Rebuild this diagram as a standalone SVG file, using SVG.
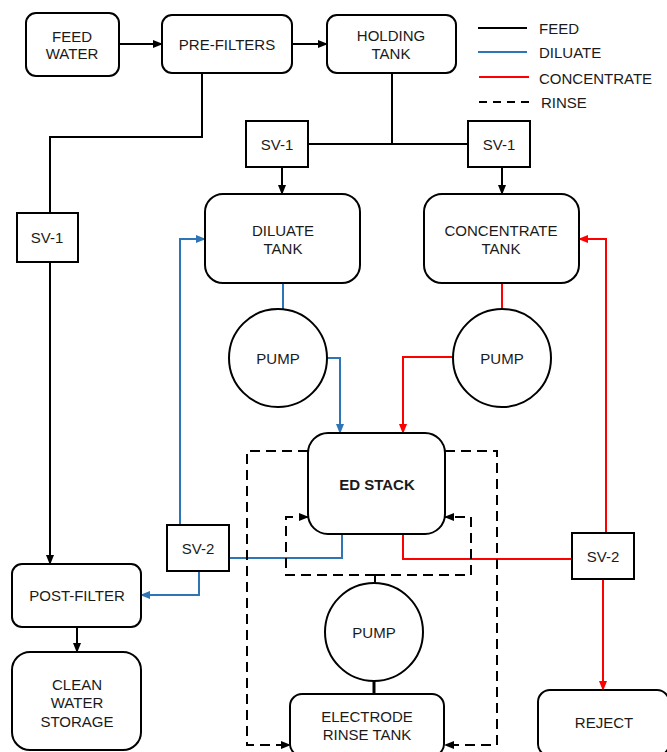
<svg xmlns="http://www.w3.org/2000/svg" width="667" height="752" viewBox="0 0 667 752">
<defs>
<style>
.n{fill:#fff;stroke:#000;stroke-width:2}
.t{font-family:"Liberation Sans",Arial,sans-serif;font-size:15px;fill:#1a1a1a;text-anchor:middle}
.b{font-weight:bold}
.f{fill:none;stroke:#000;stroke-width:2}
.d{fill:none;stroke:#2E75B6;stroke-width:2}
.c{fill:none;stroke:#FF0000;stroke-width:2}
.r{fill:none;stroke:#000;stroke-width:2;stroke-dasharray:10 6}
</style>
<marker id="ak" markerUnits="userSpaceOnUse" markerWidth="10" markerHeight="10" viewBox="0 0 10 10" refX="9" refY="5" orient="auto"><path d="M0,1 L10,5 L0,9 Z" fill="#000"/></marker>
<marker id="ab" markerUnits="userSpaceOnUse" markerWidth="10" markerHeight="10" viewBox="0 0 10 10" refX="9" refY="5" orient="auto"><path d="M0,1 L10,5 L0,9 Z" fill="#2E75B6"/></marker>
<marker id="ar" markerUnits="userSpaceOnUse" markerWidth="10" markerHeight="10" viewBox="0 0 10 10" refX="9" refY="5" orient="auto"><path d="M0,1 L10,5 L0,9 Z" fill="#FF0000"/></marker>
</defs>
<rect width="667" height="752" fill="#fff"/>
<g id="connectors">
<path class="f" d="M119,44 H162" marker-end="url(#ak)"/>
<path class="f" d="M292,44 H327" marker-end="url(#ak)"/>
<path class="f" d="M202,73 V137 H50 V564" marker-end="url(#ak)"/>
<path class="f" d="M392,73 V144 M308,144 H468"/>
<path class="f" d="M282,167 V194" marker-end="url(#ak)"/>
<path class="f" d="M502,167 V194" marker-end="url(#ak)"/>
<path class="f" d="M77,627 V652" marker-end="url(#ak)"/>
<path class="f" d="M374,680 V694" style="stroke-width:3"/>
<path class="d" d="M283,283 V310"/>
<path class="d" d="M327,358 H340 V433" marker-end="url(#ab)"/>
<path class="d" d="M342,534 V558 H229"/>
<path class="d" d="M180,525 V239 H205" marker-end="url(#ab)"/>
<path class="d" d="M199,571 V595 H141" marker-end="url(#ab)"/>
<path class="c" d="M502,283 V310"/>
<path class="c" d="M453,357 H403 V433" marker-end="url(#ar)"/>
<path class="c" d="M403,534 V559 H572"/>
<path class="c" d="M606,533 V239 H579" marker-end="url(#ar)"/>
<path class="c" d="M603,579 V690" marker-end="url(#ar)"/>
<path class="r" d="M308,451 H247 V745 H290" marker-end="url(#ak)"/>
<path class="r" d="M445,451 H497 V745 H445" marker-end="url(#ak)"/>
<path class="f" d="M375,575 V583"/>
<path class="r" d="M375,575 H286 V517 H308" marker-end="url(#ak)"/>
<path class="r" d="M375,575 H471 V517 H445" marker-end="url(#ak)"/>
</g>
<g id="legend">
<path class="f" d="M478,28 H527"/>
<path class="d" d="M478,52 H527"/>
<path class="c" d="M479,77 H529"/>
<path class="r" d="M479,102 H529" style="stroke-dasharray:8 6"/>
<text class="t" x="539" y="34" style="text-anchor:start">FEED</text>
<text class="t" x="539" y="58" style="text-anchor:start">DILUATE</text>
<text class="t" x="539" y="84" style="text-anchor:start">CONCENTRATE</text>
<text class="t" x="541" y="108" style="text-anchor:start">RINSE</text>
</g>
<g id="feed-water"><rect class="n" x="26" y="13" width="93" height="63" rx="10"/><text class="t" x="72" y="42">FEED</text><text class="t" x="72" y="59">WATER</text></g>
<g id="pre-filters"><rect class="n" x="162" y="15" width="130" height="58" rx="10"/><text class="t" x="227" y="50">PRE-FILTERS</text></g>
<g id="holding-tank"><rect class="n" x="327" y="15" width="129" height="58" rx="10"/><text class="t" x="391" y="41">HOLDING</text><text class="t" x="391" y="59">TANK</text></g>
<g id="sv1-a"><rect class="n" x="246" y="121" width="62" height="46"/><text class="t" x="277" y="150">SV-1</text></g>
<g id="sv1-b"><rect class="n" x="468" y="121" width="62" height="46"/><text class="t" x="499" y="150">SV-1</text></g>
<g id="sv1-c"><rect class="n" x="17" y="213" width="61" height="49"/><text class="t" x="47" y="243">SV-1</text></g>
<g id="diluate-tank"><rect class="n" x="205" y="194" width="155" height="89" rx="18"/><text class="t" x="283" y="236">DILUATE</text><text class="t" x="283" y="254">TANK</text></g>
<g id="concentrate-tank"><rect class="n" x="424" y="194" width="155" height="89" rx="18"/><text class="t" x="501" y="236">CONCENTRATE</text><text class="t" x="501" y="254">TANK</text></g>
<g id="pump-d"><circle class="n" cx="278" cy="358" r="49"/><text class="t" x="278" y="364">PUMP</text></g>
<g id="pump-c"><circle class="n" cx="502" cy="358" r="49"/><text class="t" x="502" y="364">PUMP</text></g>
<g id="ed-stack"><rect class="n" x="308" y="433" width="137" height="101" rx="20"/><text class="t b" x="377" y="490">ED STACK</text></g>
<g id="sv2-a"><rect class="n" x="167" y="525" width="62" height="46"/><text class="t" x="198" y="554">SV-2</text></g>
<g id="sv2-b"><rect class="n" x="572" y="533" width="62" height="46"/><text class="t" x="603" y="562">SV-2</text></g>
<g id="post-filter"><rect class="n" x="12" y="564" width="129" height="63" rx="10"/><text class="t" x="77" y="601">POST-FILTER</text></g>
<g id="clean-water"><rect class="n" x="12" y="652" width="129" height="98" rx="18"/><text class="t" x="77" y="690">CLEAN</text><text class="t" x="77" y="708">WATER</text><text class="t" x="77" y="727">STORAGE</text></g>
<g id="pump-r"><circle class="n" cx="374" cy="632" r="49"/><text class="t" x="374" y="638">PUMP</text></g>
<g id="rinse-tank"><rect class="n" x="290" y="694" width="154" height="62" rx="12"/><text class="t" x="367" y="722">ELECTRODE</text><text class="t" x="367" y="740">RINSE TANK</text></g>
<g id="reject"><rect class="n" x="538" y="690" width="131" height="66" rx="12"/><text class="t" x="604" y="728">REJECT</text></g>
</svg>
